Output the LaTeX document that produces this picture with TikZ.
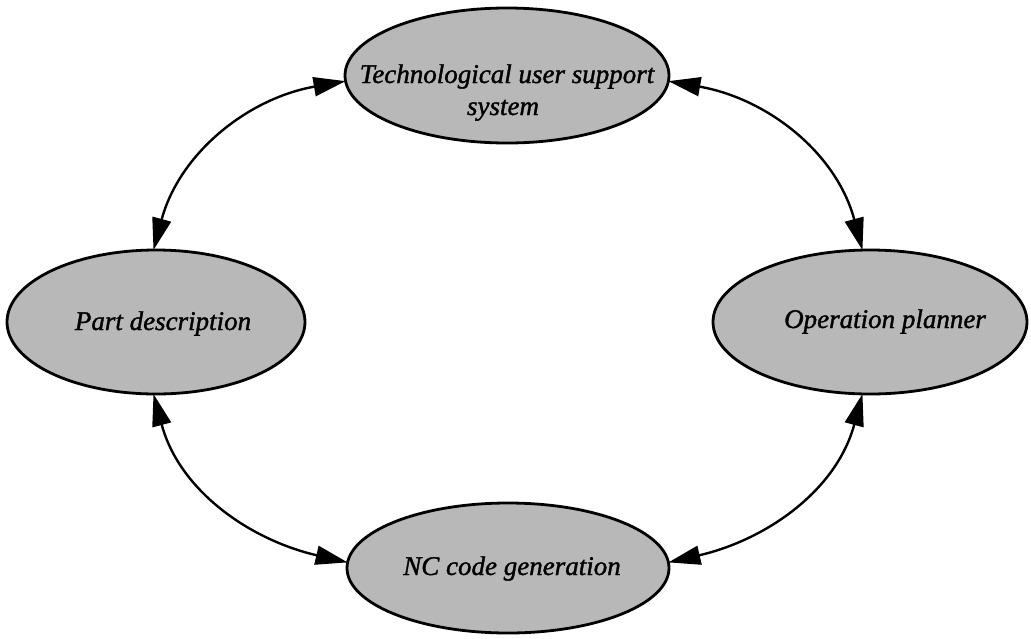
\documentclass[tikz,border=0pt]{standalone}
\usepackage{fontspec}
\setmainfont{Liberation Serif}
\newfontfamily\captionfont[FakeBold=1.3]{Liberation Serif}
\usetikzlibrary{shapes.geometric,arrows.meta}
\begin{document}
\begin{tikzpicture}[x=1pt,y=-1pt,
  module/.style={ellipse,draw=black,line width=2.8pt,fill=black!28,
    inner sep=0pt,outer sep=0pt},
  caption/.style={anchor=base,inner sep=0pt,
    font=\captionfont\fontsize{27pt}{32pt}\selectfont\itshape},
  link/.style={line width=2.4pt,
    {Triangle[length=32pt,width=19pt]}-{Triangle[length=32pt,width=19pt]}}]
\useasboundingbox (0,0) rectangle (1031,638);

% the four modules
\node[module,minimum width=324pt,minimum height=135pt] (tus)  at (507,75.5) {};
\node[module,minimum width=298pt,minimum height=144pt] (part) at (156,322) {};
\node[module,minimum width=314pt,minimum height=144pt] (plan) at (870,322) {};
\node[module,minimum width=322pt,minimum height=130pt] (nc)   at (508,568) {};

% module names
\node[caption] (tusA)  at (507,83)  {Technological user support};
\node[caption] (tusB)  at (503,115) {system};
\node[caption] (partT) at (163,330) {Part description};
\node[caption] (planT) at (885,328) {Operation planner};
\node[caption] (ncT)   at (512,575) {NC code generation};

% two-way links between neighbouring modules
\draw[link] (part.92)  to[out=75,in=190]   (tus.182);
\draw[link] (tus.358)  to[out=-10,in=105]  (plan.96);
\draw[link] (part.268) to[out=-75,in=167]  (nc.178);
\draw[link] (nc.2)     to[out=13,in=-105]  (plan.264);
\end{tikzpicture}
\end{document}
